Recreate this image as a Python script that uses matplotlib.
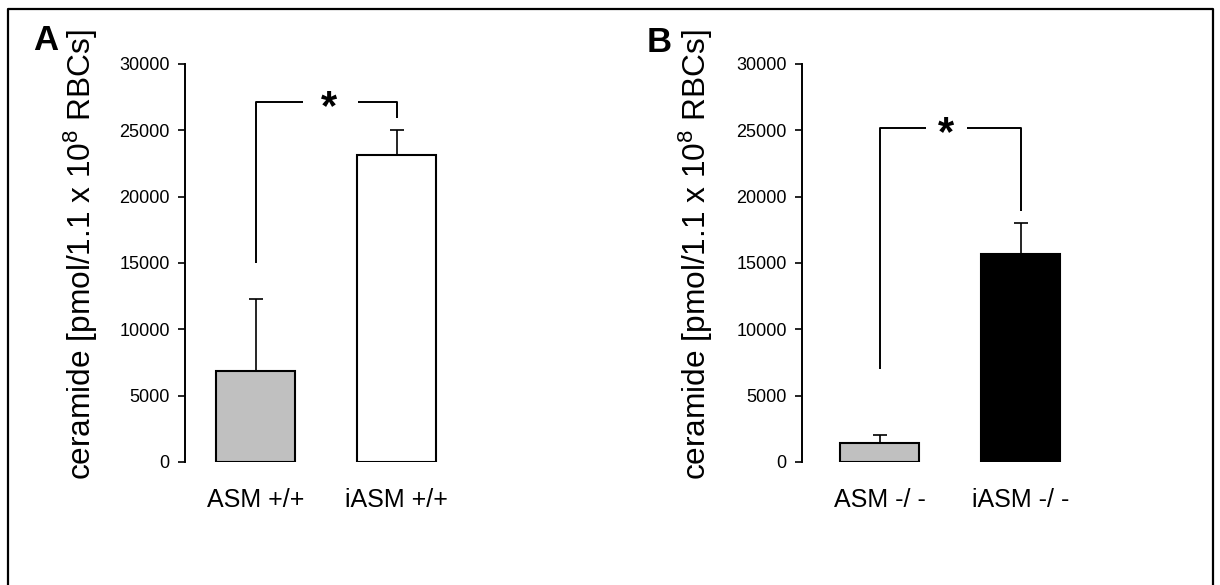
import matplotlib
matplotlib.use("Agg")
import matplotlib.pyplot as plt
from matplotlib.lines import Line2D

plt.rcParams['font.family'] = ['Liberation Sans', 'DejaVu Sans']
plt.rcParams['mathtext.fontset'] = 'custom'
plt.rcParams['mathtext.rm'] = 'Liberation Sans'
plt.rcParams['mathtext.default'] = 'regular'

# data
labels_a = ['ASM +/+', 'iASM +/+']
means_a = [6850, 23150]
errs_a = [5450, 1900]
colors_a = ['#c0c0c0', 'white']

labels_b = ['ASM -/ -', 'iASM -/ -']
means_b = [1400, 15650]
errs_b = [600, 2350]
colors_b = ['#c0c0c0', 'black']

yticks = [0, 5000, 10000, 15000, 20000, 25000, 30000]
ylabel = r'ceramide [pmol/1.1 x 10$^{8}$ RBCs]'

# significance brackets: (left foot, height, right foot)
bracket_a = (15000, 27100, 25900)
bracket_b = (7000, 25200, 18900)

W, H = 1220, 585
fig = plt.figure(figsize=(W / 100, H / 100), dpi=100)


def panel(rect, xmin, labels, means, errs, colors, bracket, gap, star_x):
    ax = fig.add_axes(rect)
    x = list(range(len(means)))
    ax.bar(x, means, width=0.56, color=colors, edgecolor='black', linewidth=1.5, zorder=2)
    ax.errorbar(x, means, yerr=[[0] * len(errs), errs], fmt='none', ecolor='black',
                elinewidth=1.2, capsize=5, capthick=1.2, zorder=1)
    ax.set_xlim(xmin, 1.5)
    ax.set_ylim(0, 30000)
    ax.set_yticks(yticks)
    ax.set_yticklabels([str(t) for t in yticks], fontsize=13)
    ax.set_xticks(x)
    ax.set_xticklabels(labels, fontsize=18)
    ax.tick_params(axis='x', length=0, pad=19)
    ax.tick_params(axis='y', length=5, width=1.2, pad=6)
    for s in ['top', 'right', 'bottom']:
        ax.spines[s].set_visible(False)
    ax.spines['left'].set_linewidth(1.4)
    ax.set_ylabel(ylabel, fontsize=22.8)
    ax.yaxis.set_label_coords(-0.30, 0.522)

    y0, yb, y1 = bracket
    kw = dict(color='black', linewidth=1.4, solid_capstyle='butt', clip_on=False)
    ax.plot([0, 0, gap[0]], [y0, yb, yb], **kw)
    ax.plot([gap[1], 1, 1], [yb, yb, y1], **kw)
    ax.text(star_x, yb - 450, '*', fontsize=30, fontweight='bold', ha='center', va='center')
    return ax


panel([185 / W, 1 - 462 / H, 282 / W, 398 / H], -0.5, labels_a, means_a, errs_a,
      colors_a, bracket_a, (0.34, 0.73), 0.52)
panel([802 / W, 1 - 462 / H, 289 / W, 398 / H], -0.55, labels_b, means_b, errs_b,
      colors_b, bracket_b, (0.33, 0.62), 0.475)

fig.text(46 / W, 1 - 41 / H, 'A', fontsize=25, fontweight='bold', ha='center', va='center')
fig.text(659 / W, 1 - 42 / H, 'B', fontsize=25, fontweight='bold', ha='center', va='center')

# frame round the figure (no bottom edge visible)
xl, xr, yt = 8 / W, 1213 / W, 1 - 9 / H
fig.add_artist(Line2D([xl, xl, xr, xr], [0, yt, yt, 0], transform=fig.transFigure,
                      color='black', linewidth=1.6))

fig.savefig('out.png', dpi=100)
